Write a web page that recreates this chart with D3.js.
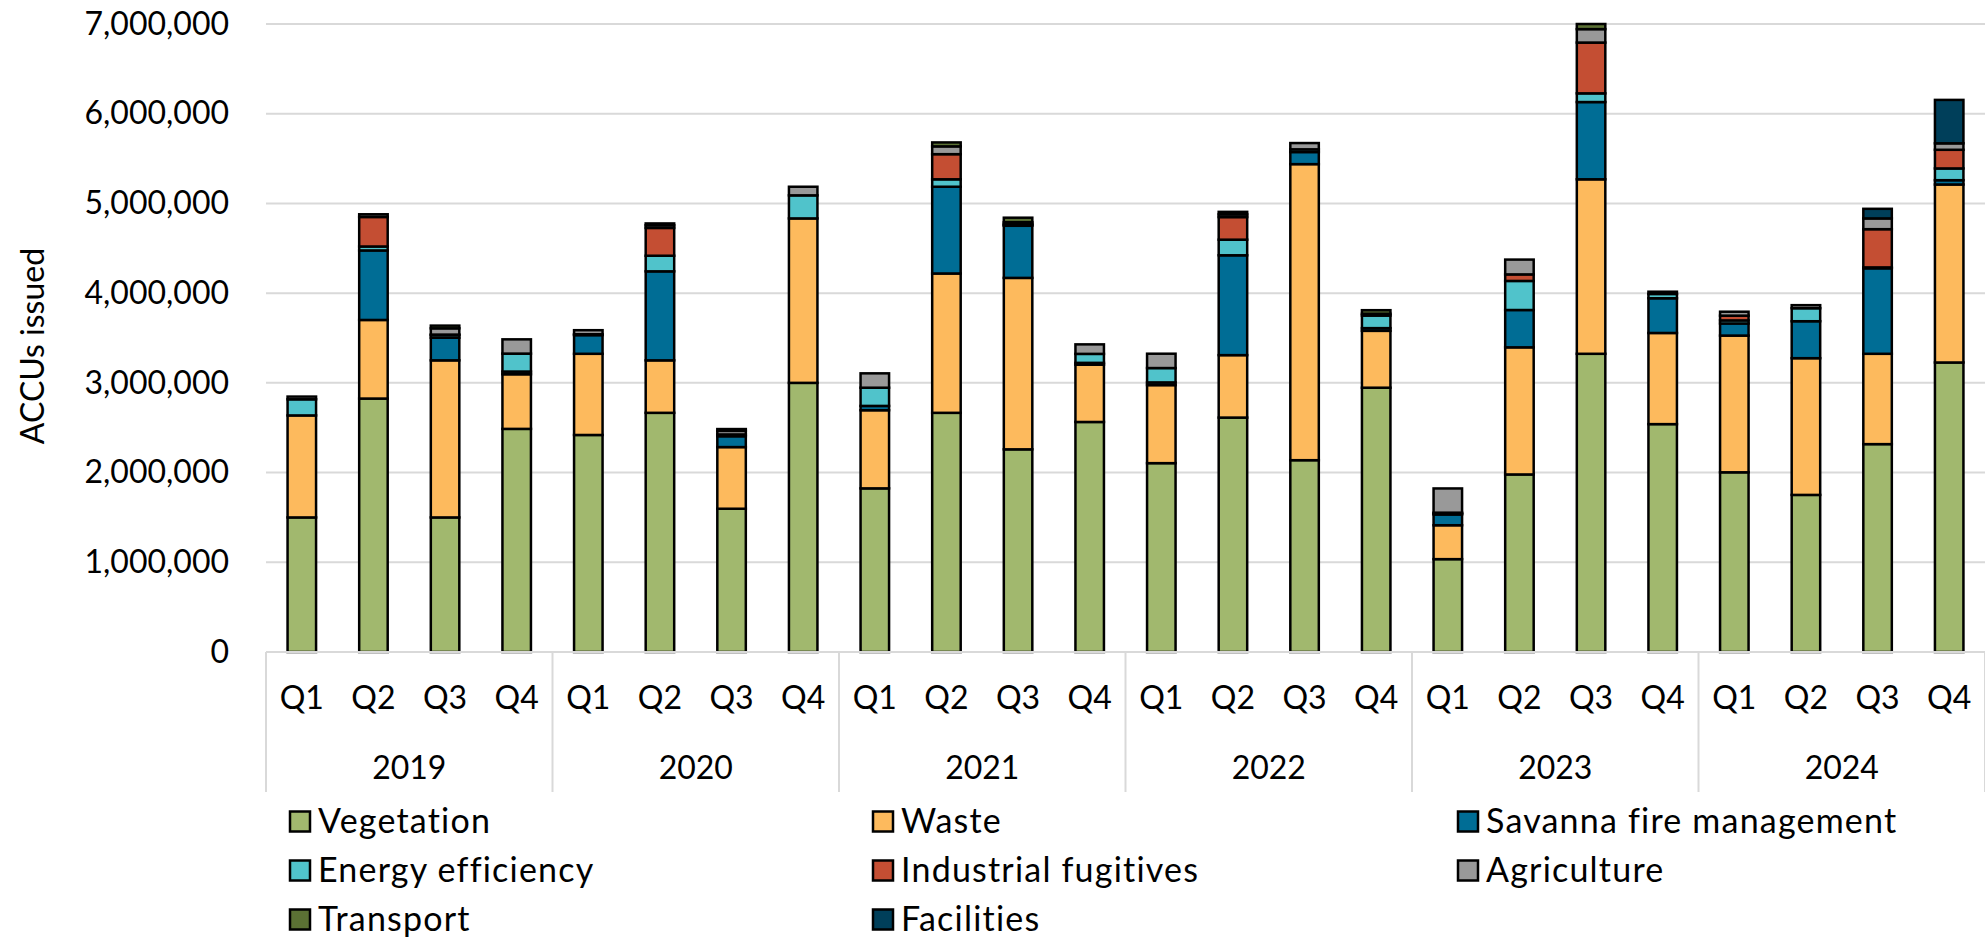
<!DOCTYPE html>
<html>
<head>
<meta charset="utf-8">
<script src="https://cdn.jsdelivr.net/npm/d3@7"></script>
<style>
  html, body { margin: 0; padding: 0; background: #fff; }
  svg { display: block; }
  text { font-family: Lato, "Open Sans", sans-serif; fill: #000; }
</style>
</head>
<body>
<svg id="chart" width="1985" height="938"></svg>
<script>
const years = ["2019", "2020", "2021", "2022", "2023", "2024"];
const quarters = ["Q1", "Q2", "Q3", "Q4"];
const seriesNames = ["Vegetation", "Waste", "Savanna fire management", "Energy efficiency",
  "Industrial fugitives", "Agriculture", "Transport", "Facilities"];
const seriesColors = ["#a1b86e", "#fdba5d", "#006d95", "#50c3cb", "#c44e33", "#999999", "#5b7134", "#003f5a"];

const vegetation = [1500000, 2825000, 1500000, 2487000, 2419000, 2666000, 1597000, 3000000,
  1824000, 2666000, 2259000, 2564000, 2105000, 2613000, 2138000, 2946000,
  1035000, 1979000, 3324000, 2540000, 2003000, 1751000, 2317000, 3227000];
const waste = [1137000, 876000, 1751000, 609000, 905000, 585000, 687000, 1833000,
  871000, 1553000, 1911000, 639000, 870000, 696000, 3300000, 634000,
  378000, 1417000, 1945000, 1016000, 1524000, 1524000, 1007000, 1984000];
const savanna = [0, 775000, 252000, 30000, 208000, 992000, 121000, 0,
  48000, 967000, 581000, 20000, 30000, 1113000, 135000, 30000,
  120000, 416000, 861000, 387000, 135000, 412000, 953000, 48000];
const energyEfficiency = [180000, 44000, 30000, 200000, 10000, 174000, 20000, 257000,
  203000, 83000, 10000, 100000, 160000, 174000, 30000, 140000,
  10000, 324000, 97000, 48000, 34000, 145000, 10000, 131000];
const industrialFugitives = [0, 329000, 5000, 0, 0, 310000, 0, 0,
  0, 280000, 10000, 0, 0, 252000, 0, 0,
  10000, 73000, 566000, 0, 53000, 0, 426000, 208000];
const agriculture = [30000, 30000, 70000, 159000, 45000, 30000, 40000, 96000,
  160000, 87000, 20000, 106000, 160000, 30000, 70000, 20000,
  270000, 165000, 150000, 25000, 44000, 34000, 120000, 72000];
const transport = [0, 0, 30000, 0, 0, 20000, 20000, 0,
  0, 44000, 50000, 0, 0, 28000, 0, 40000,
  0, 0, 57000, 0, 0, 0, 0, 0];
const facilities = [0, 0, 0, 0, 0, 0, 0, 0,
  0, 0, 0, 0, 0, 0, 0, 0,
  0, 0, 0, 0, 0, 0, 107000, 484000];
const yTicks = [0, 1000000, 2000000, 3000000, 4000000, 5000000, 6000000, 7000000];
const yTitle = "ACCUs issued";

const seriesValues = [vegetation, waste, savanna, energyEfficiency, industrialFugitives,
  agriculture, transport, facilities];

// table built from the arrays
const rows = [];
years.forEach((yr, yi) => quarters.forEach((q, qi) => {
  const i = yi * 4 + qi;
  const r = { key: yr + "-" + q, year: yr, quarter: q };
  seriesNames.forEach((s, si) => r[s] = seriesValues[si][i]);
  rows.push(r);
}));

const svg = d3.select("#chart");
const plotLeft = 266, plotRight = 1985, plotTop = 24, plotBottom = 652;

const x = d3.scaleBand().domain(rows.map(d => d.key)).range([plotLeft, plotRight]).padding(0);
const y = d3.scaleLinear().domain([0, 7000000]).range([plotBottom, plotTop]);

// gridlines
svg.append("g").selectAll("line").data(yTicks.filter(t => t > 0)).join("line")
  .attr("x1", plotLeft).attr("x2", plotRight)
  .attr("y1", d => y(d)).attr("y2", d => y(d))
  .attr("stroke", "#d9d9d9").attr("stroke-width", 2);

// y axis labels
const yAxis = svg.append("g").attr("transform", `translate(${plotLeft},0)`)
  .call(d3.axisLeft(y).tickValues(yTicks).tickFormat(d3.format(",")).tickSize(0).tickPadding(37));
yAxis.select(".domain").remove();
yAxis.selectAll("text").attr("font-size", 32).attr("font-family", "Lato, sans-serif").attr("fill", "#000");

svg.append("text")
  .attr("transform", `translate(44,${(plotTop + plotBottom) / 2 + 8}) rotate(-90)`)
  .attr("text-anchor", "middle").attr("font-size", 32)
  .text(yTitle);

// stacked bars
const stack = d3.stack().keys(seriesNames);
const stacked = stack(rows);
const barW = 28.5;
const gBars = svg.append("g");
stacked.forEach((layer, si) => {
  gBars.append("g").selectAll("rect")
    .data(layer.filter(d => d[1] - d[0] > 0))
    .join("rect")
    .attr("x", d => x(d.data.key) + x.bandwidth() / 2 - barW / 2)
    .attr("width", barW)
    .attr("y", d => y(d[1]))
    .attr("height", d => y(d[0]) - y(d[1]))
    .attr("fill", seriesColors[si])
    .attr("stroke", "#000")
    .attr("stroke-width", 2.5);
});

// baseline x axis
svg.append("line").attr("x1", plotLeft).attr("x2", plotRight).attr("y1", plotBottom).attr("y2", plotBottom)
  .attr("stroke", "#d9d9d9").attr("stroke-width", 2);

// quarter labels
const xAxis = svg.append("g").attr("transform", `translate(0,${plotBottom})`)
  .call(d3.axisBottom(x).tickFormat(k => k.split("-")[1]).tickSize(0).tickPadding(34));
xAxis.select(".domain").remove();
xAxis.selectAll("text").attr("font-size", 32).attr("font-family", "Lato, sans-serif").attr("fill", "#000");

// year separators and labels
const groupW = x.bandwidth() * 4;
const sepX = d3.range(years.length + 1).map(i => plotLeft + i * groupW);
svg.append("g").selectAll("line").data(sepX).join("line")
  .attr("x1", d => d).attr("x2", d => d)
  .attr("y1", plotBottom).attr("y2", 792)
  .attr("stroke", "#d9d9d9").attr("stroke-width", 2);
svg.append("g").selectAll("text").data(years).join("text")
  .attr("x", (d, i) => plotLeft + i * groupW + groupW / 2)
  .attr("y", 779)
  .attr("text-anchor", "middle").attr("font-size", 32)
  .text(d => d);

// legend
const legCols = [290, 873, 1458];
const legRows = [822, 871, 920];
const leg = svg.append("g");
seriesNames.forEach((s, i) => {
  const cx = legCols[i % 3], cy = legRows[Math.floor(i / 3)];
  leg.append("rect").attr("x", cx).attr("y", cy - 10.5).attr("width", 20).attr("height", 20)
    .attr("fill", seriesColors[i]).attr("stroke", "#000").attr("stroke-width", 2.5);
  leg.append("text").attr("x", cx + 28).attr("y", cy + 11).attr("font-size", 34)
    .attr("letter-spacing", 1.2).text(s);
});
</script>
</body>
</html>
